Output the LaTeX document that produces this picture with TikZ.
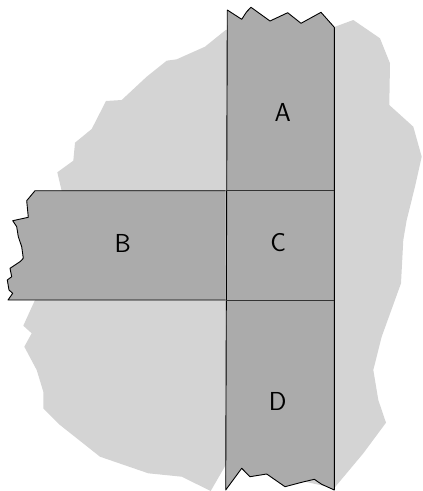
\documentclass[tikz,border=0pt]{standalone}
\begin{document}
\begin{tikzpicture}[x=1pt,y=-1pt,
  blob/.style={fill=black!17,draw=none},
  member/.style={fill=black!33,draw=black,line width=0.9pt,line join=round},
  seam/.style={draw=black!80,line width=0.9pt},
  lbl/.style={font=\sffamily\fontsize{26}{30}\selectfont,inner sep=0pt}]
\useasboundingbox (0,0) rectangle (423,491);
% background blob
\fill[blob] (225.7,30) -- (205,46.7) -- (176.7,59.3) -- (166.7,60.7) -- (146.7,76.7)
  -- (121.7,100) -- (106,101) -- (91.7,129) -- (75,142.7) -- (73.3,160.7)
  -- (57.3,172.3) -- (61.7,191) -- (35,300) -- (23.3,325.7) -- (31.7,333.3)
  -- (24.3,346.7) -- (36.7,370) -- (43.3,391.7) -- (43.3,408.3) -- (60,425)
  -- (100,456.7) -- (148.3,473.3) -- (181.7,476.7) -- (210.7,491) -- (225.7,465)
  -- (334.3,488) -- (363.3,453.3) -- (386,422.7) -- (378.3,400) -- (373.3,370)
  -- (381.7,336.7) -- (401,283.3) -- (403.3,240) -- (406.7,220) -- (415,186.7)
  -- (421.7,156.7) -- (413.3,126.7) -- (389.3,105) -- (390,63.3) -- (380,38.3)
  -- (353.3,20) -- (334.3,27) -- cycle;
% vertical member
\draw[member] (227.3,10) -- (241.7,19.3) -- (246.7,11.7) -- (251,7.3) -- (270,21)
  -- (287.7,12.7) -- (301,23.3) -- (321,12.3) -- (334.3,27.3)
  -- (334.3,490) -- (321.7,484.3) -- (314.3,479.3) -- (301.7,482.3) -- (285,486.7)
  -- (266.7,474) -- (250,476.7) -- (241.7,468.3) -- (225.7,490) -- cycle;
% horizontal member
\draw[member] (225.7,190.7) -- (35,190.7) -- (26.7,200.7) -- (28.3,217.3) -- (12.7,220.7)
  -- (16.7,226.7) -- (18.3,236.7) -- (21.7,246.7) -- (23.3,258.3) -- (20,261.7)
  -- (10,268.3) -- (11.7,276.7) -- (7.3,280) -- (9,290) -- (12.7,293.3)
  -- (8,300) -- (225.7,300);
% seams
\draw[seam] (225.7,190.7) -- (334.3,190.7);
\draw[seam] (225.7,300) -- (334.3,300);
% labels
\node[lbl] (A) at (282.7,112.7) {A};
\node[lbl] (B) at (122.7,243.3) {B};
\node[lbl] (C) at (278.3,242.7) {C};
\node[lbl] (D) at (277.7,401.7) {D};
\end{tikzpicture}
\end{document}
